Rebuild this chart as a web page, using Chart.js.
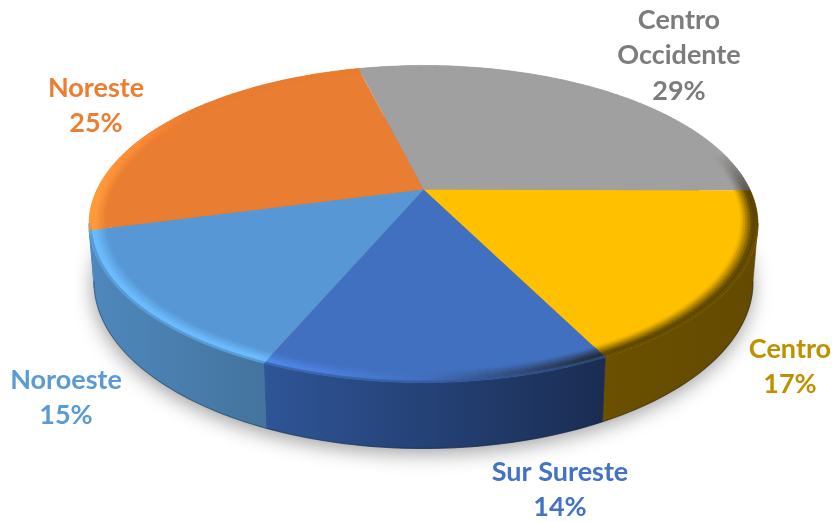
<!DOCTYPE html>
<html>
<head>
<meta charset="utf-8">
<style>html,body{margin:0;padding:0;background:#fff}canvas{display:block}</style>
<script src="https://cdn.jsdelivr.net/npm/chart.js@4"></script>
</head>
<body>
<canvas id="c" width="836" height="522"></canvas>
<script>
const categories = [['Centro','Occidente'],['Centro'],['Sur Sureste'],['Noroeste'],['Noreste']];
const values = [29,17.49,13.8,14.51,25.2];
const topColors = ['#A0A0A0','#FFC000','#4270C0','#5797D5','#E97D31'];
const sideLeft = ['#5a5a5a','#6B5000','#2F5597','#4F88BD','#4F88BD'];
const sideRight = ['#5a5a5a','#634A00','#1A2C52','#44749F','#4F88BD'];
const textColors = ['#7C7C7C','#BF9000','#4472C4','#5B9BD5','#ED7D31'];
const labelAnchors = [[679,20],[790,349],[560,472],[66,380],[96,88]];

// perspective of the pie's disc
const CX=423.5, CY=189.5, A=326.5, B=109.8, K=-0.2177;
function upper(r,a){const x=r*Math.cos(a),y=r*Math.sin(a),w=1+K*y;return [CX+A*x/w,(CY+B*y)/w];}
function low(r,a){const p=upper(r,a);return [CX+(p[0]-CX)*0.985,p[1]+58+(p[1]-225)*0.05];}
const hex=h=>[1,3,5].map(i=>parseInt(h.substr(i,2),16));
const mix=(c,d,t)=>c.map((v,i)=>v+(d[i]-v)*t);
const css=c=>`rgb(${c.map(Math.round).join(',')})`;
const clamp=(v,a,b)=>Math.max(a,Math.min(b,v));

const pie3d={
  id:'pie3d',
  beforeDatasetsDraw(chart){
    const ctx=chart.ctx, arcs=chart.getDatasetMeta(0).data, FULL=Math.PI*2;
    const STEP=Math.PI/150;
    const range=(s,e)=>{const out=[];const n=Math.max(2,Math.ceil((e-s)/STEP));for(let i=0;i<=n;i++)out.push(s+(e-s)*i/n);return out;};
    // floor shadow
    ctx.save();
    ctx.shadowColor='rgba(0,0,0,0.38)';ctx.shadowBlur=20;ctx.shadowOffsetY=5;ctx.shadowOffsetX=-1;
    ctx.fillStyle='#888';ctx.beginPath();
    range(0,FULL).forEach((a,i)=>{const p=low(1,a);i?ctx.lineTo(p[0],p[1]):ctx.moveTo(p[0],p[1]);});
    ctx.closePath();ctx.fill();ctx.restore();
    // side walls
    arcs.forEach((arc,i)=>{
      const pts=range(arc.startAngle,arc.endAngle).filter(a=>Math.sin(a)>0.2);
      if(pts.length<2)return;
      const a0=upper(1,pts[0]),a1=upper(1,pts[pts.length-1]);
      const g=ctx.createLinearGradient(Math.max(a0[0],a1[0]),0,Math.min(a0[0],a1[0]),0);
      g.addColorStop(0,sideRight[i]);g.addColorStop(1,sideLeft[i]);
      ctx.fillStyle=g;ctx.strokeStyle=g;ctx.lineWidth=0.6;ctx.beginPath();
      pts.forEach((a,j)=>{const p=upper(1,a);j?ctx.lineTo(p[0],p[1]):ctx.moveTo(p[0],p[1]);});
      pts.slice().reverse().forEach(a=>{const p=low(1,a);ctx.lineTo(p[0],p[1]);});
      ctx.closePath();ctx.fill();ctx.stroke();
      ctx.strokeStyle='rgba(10,15,30,0.3)';ctx.lineWidth=1.2;ctx.beginPath();
      pts.forEach((a,j)=>{const p=low(1,a);j?ctx.lineTo(p[0],p[1]):ctx.moveTo(p[0],p[1]);});
      ctx.stroke();
    });
    // upper faces
    arcs.forEach((arc,i)=>{
      ctx.fillStyle=topColors[i];ctx.beginPath();ctx.moveTo(CX,CY);
      range(arc.startAngle,arc.endAngle).forEach(a=>{const p=upper(1,a);ctx.lineTo(p[0],p[1]);});
      ctx.closePath();ctx.fill();
    });
    // bevel band round the rim
    const R0=0.95, RS=7;
    arcs.forEach((arc,i)=>{
      const base=hex(topColors[i]), side=hex(sideLeft[i]);
      const as=range(arc.startAngle,arc.endAngle);
      for(let k=0;k<as.length-1;k++){
        const a=(as[k]+as[k+1])/2,cx=Math.cos(a),sy=Math.sin(a);
        let s=clamp(-cx*2.4,-1,1);
        const fade=s>0?clamp((sy+0.6)/0.6,0,1):(sy>=0?1:0.7*clamp((sy+0.25)/0.25,0,1));
        s*=fade;
        const peak=s>0?base.map(v=>Math.min(255,v*(1+0.25*s))):mix(base,[25,18,5],0.72*-s);
        const sm=clamp((sy-0.2)/0.1,0,1);
        for(let j=0;j<RS;j++){
          const t=(j+0.5)/RS,r0=R0+(1-R0)*j/RS,r1=R0+(1-R0)*(j+1)/RS;
          let c=mix(base,peak,clamp(t/0.7,0,1));
          if(t>0.8)c=mix(c,side,sm*(t-0.8)/0.2);
          const col=css(c);
          const p=[upper(r0,as[k]),upper(r1,as[k]),upper(r1,as[k+1]),upper(r0,as[k+1])];
          ctx.fillStyle=col;ctx.strokeStyle=col;ctx.lineWidth=0.5;ctx.beginPath();
          ctx.moveTo(p[0][0],p[0][1]);for(let q=1;q<4;q++)ctx.lineTo(p[q][0],p[q][1]);
          ctx.closePath();ctx.fill();ctx.stroke();
        }
      }
    });
    return false;
  },
  afterDraw(chart){
    const ctx=chart.ctx;
    ctx.save();ctx.font='bold 27px Lato, Carlito, sans-serif';ctx.textAlign='center';ctx.textBaseline='middle';
    categories.forEach((lines,i)=>{
      ctx.fillStyle=textColors[i];
      [...lines,Math.round(values[i])+'%'].forEach((s,j)=>ctx.fillText(s,labelAnchors[i][0],labelAnchors[i][1]+j*35.5));
    });
    ctx.restore();
  }
};

new Chart(document.getElementById('c'),{
  type:'pie',
  data:{labels:categories,datasets:[{data:values,backgroundColor:topColors,borderWidth:0}]},
  options:{responsive:false,animation:false,rotation:-14,devicePixelRatio:1,
    plugins:{legend:{display:false},tooltip:{enabled:false}}},
  plugins:[pie3d]
});
</script>
</body>
</html>
